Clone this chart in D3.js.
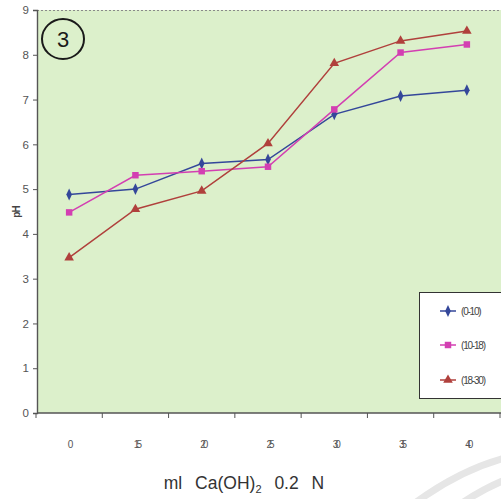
<!DOCTYPE html>
<html>
<head>
<meta charset="utf-8">
<script src="https://cdn.jsdelivr.net/npm/d3@7"></script>
<style>
  html, body { margin: 0; padding: 0; background: #ffffff; }
  svg { display: block; }
</style>
</head>
<body>
<script>
// Volumes of Ca(OH)2 added (tick labels as printed)
const categories = ["0", "15", "20", "25", "30", "35", "40"];
// pH readings for the three depth layers
const series1 = [4.88, 5.00, 5.57, 5.66, 6.67, 7.08, 7.21]; // (0-10)
const series2 = [4.48, 5.31, 5.40, 5.50, 6.78, 8.05, 8.23]; // (10-18)
const series3 = [3.47, 4.55, 4.96, 6.02, 7.81, 8.31, 8.53]; // (18-30)
const seriesNames = ["(0-10)", "(10-18)", "(18-30)"];
const yTicks = [0, 1, 2, 3, 4, 5, 6, 7, 8, 9];

const W = 501, H = 499;
const plot = { left: 37, right: 501, top: 10, bottom: 413 };

const svg = d3.select("body").append("svg")
  .attr("width", W).attr("height", H);

// faint arcs in lower right corner of the page
const arcG = svg.append("g").attr("fill", "none").attr("stroke", "#e6e6e6").attr("stroke-width", 7);
arcG.append("path").attr("d", "M 415 503 Q 460 470 505 458");
arcG.append("path").attr("d", "M 462 503 Q 485 488 505 480");

const x = d3.scaleBand().domain(categories).range([36, 500]);
const y = d3.scaleLinear().domain([0, 9]).range([plot.bottom, plot.top]);

// plot area
svg.append("rect")
  .attr("x", plot.left).attr("y", plot.top)
  .attr("width", plot.right - plot.left + 2).attr("height", plot.bottom - plot.top)
  .attr("fill", "#dcf0cb");
svg.append("line")
  .attr("x1", plot.left).attr("x2", W).attr("y1", plot.top + 0.5).attr("y2", plot.top + 0.5)
  .attr("stroke", "#8a8a8a").attr("stroke-width", 1).attr("stroke-dasharray", "2,2");

// y axis
const yAxis = svg.append("g")
  .attr("transform", `translate(${plot.left},0)`)
  .call(d3.axisLeft(y).tickValues(yTicks).tickSize(4).tickPadding(4));
yAxis.select(".domain").attr("stroke", "#555").attr("stroke-width", 1.4);
yAxis.selectAll(".tick line").attr("stroke", "#555");
yAxis.selectAll("text").attr("font-family", "Liberation Sans, Arial, sans-serif")
  .attr("font-size", 11.5).attr("fill", "#555");

// x axis with ticks between categories
const xAxisG = svg.append("g").attr("transform", `translate(0,${plot.bottom})`);
xAxisG.append("line").attr("x1", plot.left).attr("x2", W)
  .attr("y1", 0).attr("y2", 0).attr("stroke", "#555").attr("stroke-width", 1.4);
const bounds = categories.map(c => x(c)).concat([x.range()[1]]);
xAxisG.selectAll("line.tk").data(bounds).join("line").attr("class", "tk")
  .attr("x1", d => d).attr("x2", d => d).attr("y1", 0).attr("y2", 5)
  .attr("stroke", "#555");
xAxisG.selectAll("text").data(categories).join("text")
  .attr("x", d => x(d) + x.bandwidth() / 2 + (d.length > 1 ? 1 : 0))
  .attr("y", 35)
  .attr("text-anchor", "middle")
  .attr("font-family", "Liberation Sans, Arial, sans-serif")
  .attr("font-size", 10).attr("fill", "#555")
  .attr("letter-spacing", -3)
  .text(d => d);

// y axis title
svg.append("text")
  .attr("transform", "translate(20,212) rotate(-90)")
  .attr("text-anchor", "middle")
  .attr("font-family", "Liberation Sans, Arial, sans-serif")
  .attr("font-size", 10).attr("font-weight", "bold").attr("fill", "#444")
  .attr("letter-spacing", -0.8)
  .text("pH");

// x axis title with subscript
const xt = svg.append("text")
  .attr("x", 244).attr("y", 489)
  .attr("text-anchor", "middle")
  .attr("font-family", "Liberation Sans, Arial, sans-serif")
  .attr("font-size", 17.5).attr("fill", "#333")
  .attr("word-spacing", 8);
xt.append("tspan").text("ml Ca(OH)");
xt.append("tspan").attr("font-size", 11).attr("dy", 4).text("2");
xt.append("tspan").attr("dy", -4).text(" 0.2 N");

// series
const seriesData = [series1, series2, series3];
const colors = ["#34479a", "#d33fb2", "#b0403c"];
const symbols = [d3.symbolDiamond, d3.symbolSquare, d3.symbolTriangle];
const symSizes = [34, 42, 40];

const line = d3.line()
  .x((d, i) => x(categories[i]) + x.bandwidth() / 2)
  .y(d => y(d));

seriesData.forEach((vals, s) => {
  svg.append("path").datum(vals)
    .attr("fill", "none").attr("stroke", colors[s]).attr("stroke-width", 1.5)
    .attr("d", line);
});
seriesData.forEach((vals, s) => {
  svg.selectAll(null).data(vals).join("path")
    .attr("transform", (d, i) => `translate(${x(categories[i]) + x.bandwidth() / 2},${y(d)})` + (s === 0 ? " scale(0.9,1.1)" : ""))
    .attr("d", d3.symbol().type(symbols[s]).size(symSizes[s]))
    .attr("fill", colors[s]);
});

// legend
const lg = svg.append("g");
lg.append("rect").attr("x", 419.5).attr("y", 292.5).attr("width", 90).attr("height", 106)
  .attr("fill", "#ffffff").attr("stroke", "#333").attr("stroke-width", 1);
const legY = [311, 345, 380];
seriesNames.forEach((name, s) => {
  lg.append("line").attr("x1", 440).attr("x2", 456)
    .attr("y1", legY[s]).attr("y2", legY[s])
    .attr("stroke", colors[s]).attr("stroke-width", 1.5);
  lg.append("path")
    .attr("transform", `translate(448,${legY[s]})` + (s === 0 ? " scale(0.9,1.1)" : ""))
    .attr("d", d3.symbol().type(symbols[s]).size(symSizes[s]))
    .attr("fill", colors[s]);
  lg.append("text").attr("x", 461).attr("y", legY[s] + 3.5)
    .attr("font-family", "Liberation Sans Narrow, Liberation Sans, Arial, sans-serif")
    .attr("font-size", 10).attr("fill", "#444")
    .attr("letter-spacing", -1.2)
    .text(name);
});

// circled panel number
svg.append("ellipse").attr("cx", 63).attr("cy", 39).attr("rx", 21).attr("ry", 20)
  .attr("fill", "none").attr("stroke", "#1a1a1a").attr("stroke-width", 2);
svg.append("text").attr("x", 63).attr("y", 47)
  .attr("text-anchor", "middle")
  .attr("font-family", "Liberation Sans, Arial, sans-serif")
  .attr("font-size", 22).attr("fill", "#1a1a1a")
  .text("3");
</script>
</body>
</html>
